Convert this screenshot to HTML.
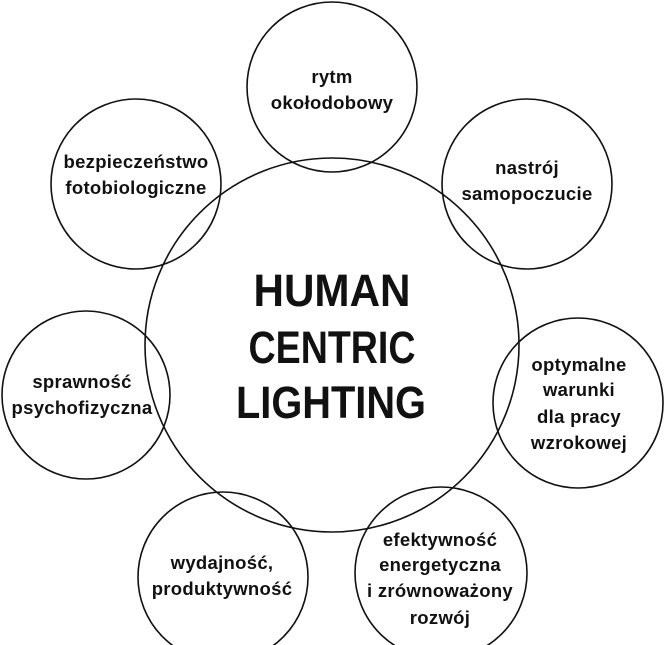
<!DOCTYPE html>
<html><head><meta charset="utf-8"><style>
html,body{margin:0;padding:0;background:#fff;}
svg{display:block;}
text{font-family:"Liberation Sans",sans-serif;font-weight:bold;fill:#111;text-anchor:middle;}
.s{font-size:18.5px;letter-spacing:0.3px;}
.b{font-size:45px;}
</style></head><body>
<svg width="664" height="645" viewBox="0 0 664 645" xmlns="http://www.w3.org/2000/svg">
<g fill="none" stroke="#111" stroke-width="1.6">
<circle cx="332" cy="345" r="187"/>
<circle cx="332" cy="87" r="85"/>
<circle cx="136" cy="184" r="85"/>
<circle cx="527" cy="184" r="85"/>
<circle cx="86" cy="395" r="84"/>
<circle cx="578" cy="403" r="85"/>
<circle cx="223" cy="577" r="85"/>
<circle cx="441" cy="573" r="86"/>
</g>
<text class="b" x="332" y="306" textLength="157" lengthAdjust="spacingAndGlyphs">HUMAN</text>
<text class="b" x="332" y="363" textLength="167" lengthAdjust="spacingAndGlyphs">CENTRIC</text>
<text class="b" x="331" y="418" textLength="190" lengthAdjust="spacingAndGlyphs">LIGHTING</text>
<text class="s" x="332" y="83">rytm</text>
<text class="s" x="332" y="109">okołodobowy</text>
<text class="s" x="136" y="168">bezpieczeństwo</text>
<text class="s" x="136" y="194">fotobiologiczne</text>
<text class="s" x="527" y="174">nastrój</text>
<text class="s" x="527" y="200">samopoczucie</text>
<text class="s" x="82" y="388">sprawność</text>
<text class="s" x="82" y="414">psychofizyczna</text>
<text class="s" x="579" y="371">optymalne</text>
<text class="s" x="579" y="396">warunki</text>
<text class="s" x="579" y="423">dla pracy</text>
<text class="s" x="579" y="449">wzrokowej</text>
<text class="s" x="222" y="569">wydajność,</text>
<text class="s" x="222" y="595">produktywność</text>
<text class="s" x="440" y="546">efektywność</text>
<text class="s" x="440" y="571">energetyczna</text>
<text class="s" x="440" y="597">i zrównoważony</text>
<text class="s" x="440" y="624">rozwój</text>
</svg>
</body></html>
